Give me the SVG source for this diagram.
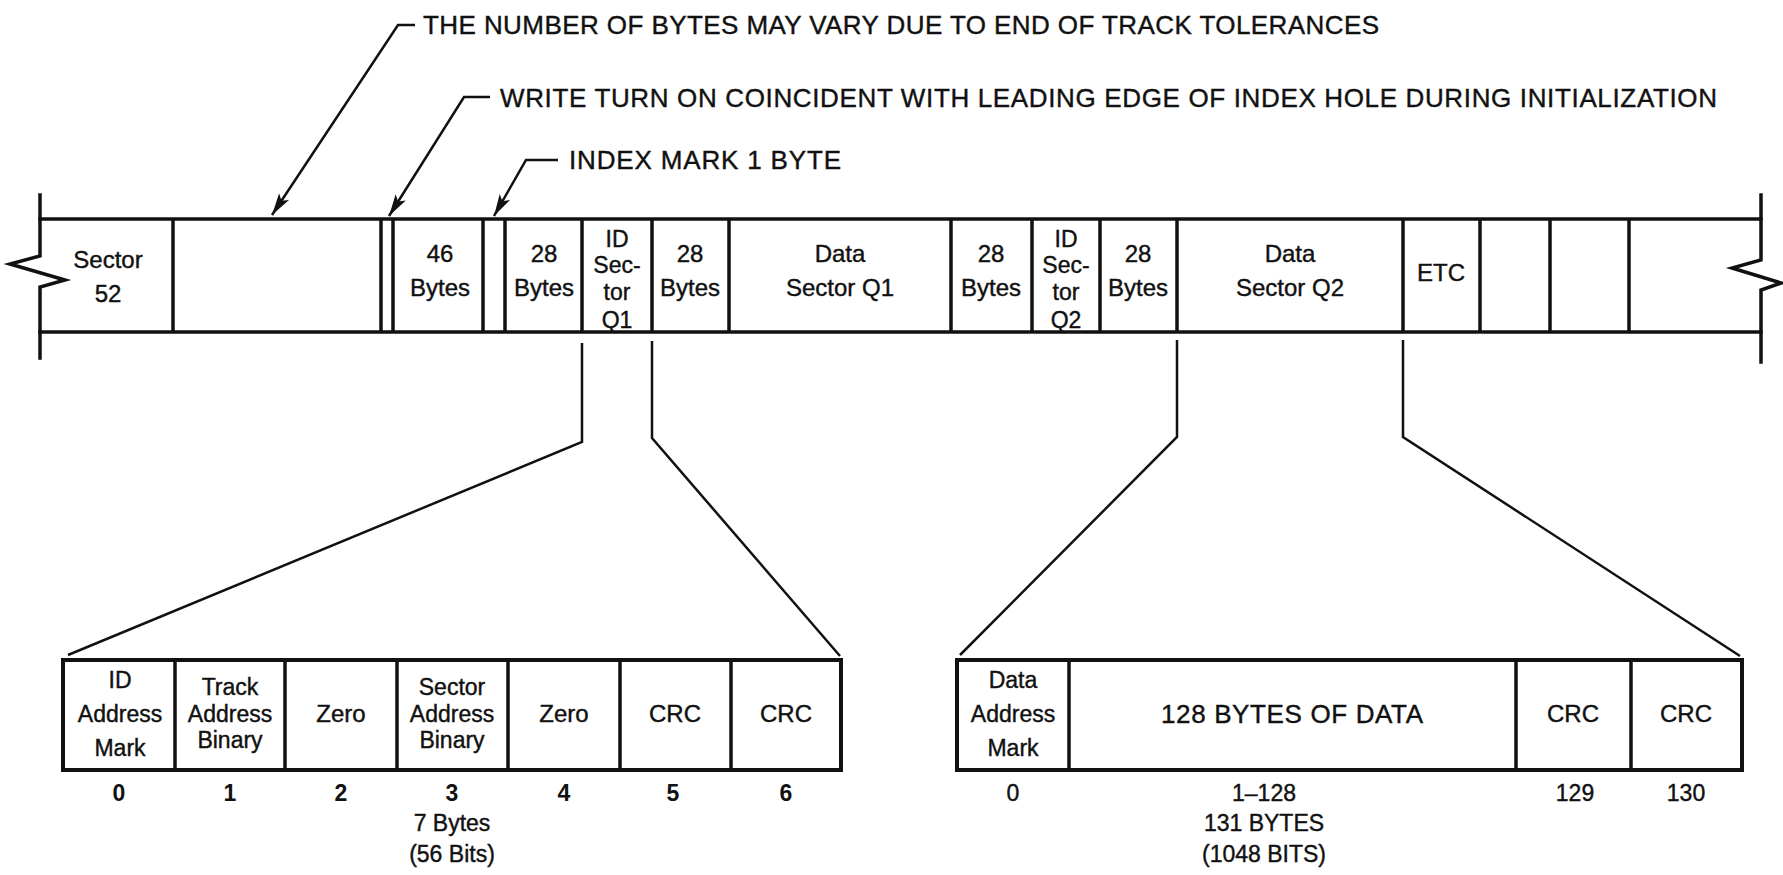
<svg xmlns="http://www.w3.org/2000/svg" width="1783" height="875" viewBox="0 0 1783 875">
<defs>
<style>
.ln{stroke:#111;stroke-width:3.5;fill:none;stroke-linecap:square}
.dv{stroke:#111;stroke-width:3.5;fill:none}
.ld{stroke:#111;stroke-width:2.5;fill:none}
.bx{stroke:#111;stroke-width:4;fill:#fff}
.t{font-family:"Liberation Sans",Arial,sans-serif;font-size:24px;fill:#111;stroke:#111;stroke-width:0.4;text-anchor:middle}
.s{font-size:23px}
.big{font-size:26px}
.n{font-family:"Liberation Sans",Arial,sans-serif;font-size:23px;fill:#111;stroke:#111;stroke-width:0.4;text-anchor:middle}
.nb{font-weight:bold;stroke-width:0}
.a{font-family:"Liberation Sans",Arial,sans-serif;font-size:26px;fill:#111;stroke:#111;stroke-width:0.4}
</style>
<marker id="arr" markerUnits="userSpaceOnUse" markerWidth="24" markerHeight="14" refX="22" refY="6" orient="auto">
<path d="M0,0 L22,6 L0,12 L5,6 z" fill="#111"/>
</marker>
</defs>
<rect width="1783" height="875" fill="#fff"/>

<g id="track">
<line class="ln" x1="40" y1="219" x2="1761" y2="219"/>
<line class="ln" x1="40" y1="332" x2="1761" y2="332"/>
<path class="ln" d="M40,195 L40,256 L10,264 L65,280 L40,287 L40,358"/>
<path class="ln" d="M1761,195 L1761,260 L1732,268 L1781,283 L1761,290 L1761,362"/>
</g>

<g id="cell-sector52"><line class="dv" x1="173" y1="219" x2="173" y2="332"/>
<text class="t" x="108" y="268">Sector</text><text class="t" x="108" y="302">52</text></g>
<g id="cell-gap"><line class="dv" x1="381" y1="219" x2="381" y2="332"/><line class="dv" x1="393" y1="219" x2="393" y2="332"/></g>
<g id="cell-46bytes"><line class="dv" x1="483" y1="219" x2="483" y2="332"/>
<text class="t" x="440" y="262">46</text><text class="t" x="440" y="296">Bytes</text></g>
<g id="cell-indexmark"><line class="dv" x1="505" y1="219" x2="505" y2="332"/></g>
<g id="cell-28bytes-1"><line class="dv" x1="582" y1="219" x2="582" y2="332"/>
<text class="t" x="544" y="262">28</text><text class="t" x="544" y="296">Bytes</text></g>
<g id="cell-idq1"><line class="dv" x1="652" y1="219" x2="652" y2="332"/>
<text class="t s" x="617" y="247">ID</text><text class="t s" x="617" y="273">Sec-</text><text class="t s" x="617" y="300">tor</text><text class="t s" x="617" y="328">Q1</text></g>
<g id="cell-28bytes-2"><line class="dv" x1="729" y1="219" x2="729" y2="332"/>
<text class="t" x="690" y="262">28</text><text class="t" x="690" y="296">Bytes</text></g>
<g id="cell-dataq1"><line class="dv" x1="951" y1="219" x2="951" y2="332"/>
<text class="t" x="840" y="262">Data</text><text class="t" x="840" y="296">Sector Q1</text></g>
<g id="cell-28bytes-3"><line class="dv" x1="1032" y1="219" x2="1032" y2="332"/>
<text class="t" x="991" y="262">28</text><text class="t" x="991" y="296">Bytes</text></g>
<g id="cell-idq2"><line class="dv" x1="1100" y1="219" x2="1100" y2="332"/>
<text class="t s" x="1066" y="247">ID</text><text class="t s" x="1066" y="273">Sec-</text><text class="t s" x="1066" y="300">tor</text><text class="t s" x="1066" y="328">Q2</text></g>
<g id="cell-28bytes-4"><line class="dv" x1="1177" y1="219" x2="1177" y2="332"/>
<text class="t" x="1138" y="262">28</text><text class="t" x="1138" y="296">Bytes</text></g>
<g id="cell-dataq2"><line class="dv" x1="1403" y1="219" x2="1403" y2="332"/>
<text class="t" x="1290" y="262">Data</text><text class="t" x="1290" y="296">Sector Q2</text></g>
<g id="cell-etc"><line class="dv" x1="1480" y1="219" x2="1480" y2="332"/>
<text class="t" x="1441" y="281">ETC</text></g>
<g id="cell-e1"><line class="dv" x1="1550" y1="219" x2="1550" y2="332"/></g>
<g id="cell-e2"><line class="dv" x1="1629" y1="219" x2="1629" y2="332"/></g>

<g id="note-1"><text class="a" x="423" y="34" textLength="956" lengthAdjust="spacing">THE NUMBER OF BYTES MAY VARY DUE TO END OF TRACK TOLERANCES</text></g>
<g id="note-2"><text class="a" x="500" y="107" textLength="1217" lengthAdjust="spacing">WRITE TURN ON COINCIDENT WITH LEADING EDGE OF INDEX HOLE DURING INITIALIZATION</text></g>
<g id="note-3"><text class="a" x="569" y="169" textLength="272" lengthAdjust="spacing">INDEX MARK 1 BYTE</text></g>

<g id="id-field">
<rect class="bx" x="63" y="660" width="778" height="110"/>
<line class="dv" x1="175" y1="660" x2="175" y2="770"/>
<line class="dv" x1="285" y1="660" x2="285" y2="770"/>
<line class="dv" x1="397" y1="660" x2="397" y2="770"/>
<line class="dv" x1="508" y1="660" x2="508" y2="770"/>
<line class="dv" x1="620" y1="660" x2="620" y2="770"/>
<line class="dv" x1="731" y1="660" x2="731" y2="770"/>
<text class="t s" x="120" y="688">ID</text><text class="t s" x="120" y="722">Address</text><text class="t s" x="120" y="756">Mark</text>
<text class="t s" x="230" y="695">Track</text><text class="t s" x="230" y="722">Address</text><text class="t s" x="230" y="748">Binary</text>
<text class="t" x="341" y="722">Zero</text>
<text class="t s" x="452" y="695">Sector</text><text class="t s" x="452" y="722">Address</text><text class="t s" x="452" y="748">Binary</text>
<text class="t" x="564" y="722">Zero</text>
<text class="t" x="675" y="722">CRC</text>
<text class="t" x="786" y="722">CRC</text>
<text class="n nb" x="119" y="801">0</text><text class="n nb" x="230" y="801">1</text><text class="n nb" x="341" y="801">2</text><text class="n nb" x="452" y="801">3</text><text class="n nb" x="564" y="801">4</text><text class="n nb" x="673" y="801">5</text><text class="n nb" x="786" y="801">6</text>
<text class="n" x="452" y="831">7 Bytes</text>
<text class="n" x="452" y="862">(56 Bits)</text>
</g>

<g id="data-field">
<rect class="bx" x="957" y="660" width="785" height="110"/>
<line class="dv" x1="1069" y1="660" x2="1069" y2="770"/>
<line class="dv" x1="1516" y1="660" x2="1516" y2="770"/>
<line class="dv" x1="1631" y1="660" x2="1631" y2="770"/>
<text class="t s" x="1013" y="688">Data</text><text class="t s" x="1013" y="722">Address</text><text class="t s" x="1013" y="756">Mark</text>
<text class="t big" x="1292" y="723" textLength="262" lengthAdjust="spacing">128 BYTES OF DATA</text>
<text class="t" x="1573" y="722">CRC</text>
<text class="t" x="1686" y="722">CRC</text>
<text class="n" x="1013" y="801">0</text><text class="n" x="1264" y="801">1–128</text><text class="n" x="1575" y="801">129</text><text class="n" x="1686" y="801">130</text>
<text class="n" x="1264" y="831">131 BYTES</text>
<text class="n" x="1264" y="862">(1048 BITS)</text>
</g>

<g id="connectors">
<path class="ld" d="M415,25 L398,25 L272,215" marker-end="url(#arr)"/>
<path class="ld" d="M490,97 L464,97 L389,216" marker-end="url(#arr)"/>
<path class="ld" d="M558,160 L526,160 L494,216" marker-end="url(#arr)"/>
<path class="ld" d="M582,343 L582,442 L68,655" stroke-width="3"/>
<path class="ld" d="M652,341 L652,438 L840,656" stroke-width="3"/>
<path class="ld" d="M1177,340 L1177,437 L960,655" stroke-width="3"/>
<path class="ld" d="M1403,340 L1403,437 L1740,656" stroke-width="3"/>
</g>
</svg>
